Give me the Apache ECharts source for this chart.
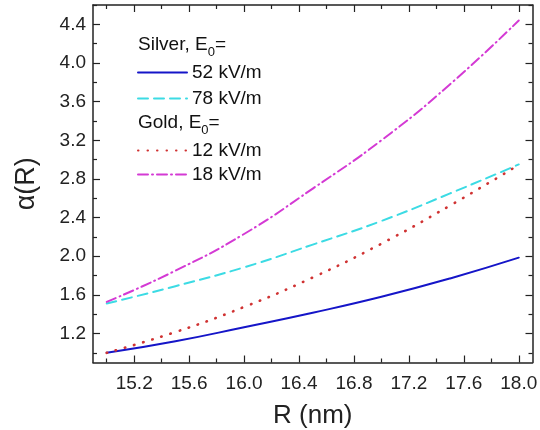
<!DOCTYPE html>
<html lang="en">
<head>
    <meta charset="UTF-8">
    <title>alpha(R)</title>
    <style>
        html, body { margin: 0; padding: 0; background: #fff; }
        #chart { width: 540px; height: 430px; }
    </style>
</head>
<body>
<div id="chart"></div>
<script src="https://cdn.jsdelivr.net/npm/echarts@6/dist/echarts.min.js"></script>
<script>
    // radius R (nm) and alpha(R)
    const radius = [15.0, 15.5, 16.0, 16.5, 17.0, 17.5, 18.0];
    const silver52 = [1.00, 1.12, 1.265, 1.415, 1.58, 1.77, 1.985];
    const silver78 = [1.51, 1.69, 1.885, 2.12, 2.365, 2.65, 2.95];
    const gold12 = [1.00, 1.215, 1.475, 1.78, 2.13, 2.525, 2.945];
    const gold18 = [1.527, 1.85, 2.23, 2.70, 3.20, 3.78, 4.44];

    const xMajor = [15.2, 15.6, 16.0, 16.4, 16.8, 17.2, 17.6, 18.0];
    const xMinor = [15.0, 15.4, 15.8, 16.2, 16.6, 17.0, 17.4, 17.8];
    const yMajor = [1.2, 1.6, 2.0, 2.4, 2.8, 3.2, 3.6, 4.0, 4.4];
    const yMinor = [1.0, 1.4, 1.8, 2.2, 2.6, 3.0, 3.4, 3.8, 4.2, 4.6];

    const font = 'Arial, "Liberation Sans", sans-serif';
    const ink = '#222';

    function pairs(ys) {
        return radius.map(function (r, i) { return [r, ys[i]]; });
    }

    function xAxisOf(pos, ticks, len, labels, line) {
        return {
            type: 'value', position: pos, min: 14.9, max: 18.1,
            splitLine: {show: false},
            axisLine: {show: line, onZero: false, lineStyle: {color: ink, width: 1.5}},
            axisTick: {show: true, inside: true, length: len, customValues: ticks,
                lineStyle: {color: ink, width: 1.2}},
            axisLabel: {show: labels, customValues: xMajor, margin: 12,
                fontSize: 19, color: ink, fontFamily: font,
                formatter: function (v) { return v.toFixed(1); }},
            name: labels ? 'R (nm)' : '',
            nameLocation: 'middle', nameGap: 40,
            nameTextStyle: {fontSize: 26, color: ink, fontFamily: font}
        };
    }

    function yAxisOf(pos, ticks, len, labels, line) {
        return {
            type: 'value', position: pos, min: 0.9, max: 4.6,
            splitLine: {show: false},
            axisLine: {show: line, onZero: false, lineStyle: {color: ink, width: 1.5}},
            axisTick: {show: true, inside: true, length: len, customValues: ticks,
                lineStyle: {color: ink, width: 1.2}},
            axisLabel: {show: labels, customValues: yMajor, margin: 7,
                fontSize: 19, color: ink, fontFamily: font,
                formatter: function (v) { return v.toFixed(1); }},
            name: labels ? 'α(R)' : '',
            nameLocation: 'middle', nameGap: 53,
            nameTextStyle: {fontSize: 27, color: ink, fontFamily: font}
        };
    }

    function line(name, ys, color, type, width) {
        return {
            name: name, type: 'line', data: pairs(ys), smooth: true,
            symbol: 'none', xAxisIndex: 0, yAxisIndex: 0,
            lineStyle: {color: color, width: width, type: type, cap: 'round'},
            itemStyle: {color: color, opacity: 0}
        };
    }

    const legendText = {fontSize: 19, color: '#111', fontFamily: font};

    const chart = echarts.init(document.getElementById('chart'));
    chart.setOption({
        animation: false,
        grid: {left: 93, right: 7.5, top: 5, bottom: 67.5, outerBoundsMode: 'none'},
        xAxis: [
            xAxisOf('bottom', xMajor, 7, true, true),
            xAxisOf('bottom', xMinor, 4, false, false),
            xAxisOf('top', xMajor, 7, false, true),
            xAxisOf('top', xMinor, 4, false, false)
        ],
        yAxis: [
            yAxisOf('left', yMajor, 7, true, true),
            yAxisOf('left', yMinor, 4, false, false),
            yAxisOf('right', yMajor, 7, false, true),
            yAxisOf('right', yMinor, 4, false, false)
        ],
        legend: [
            {data: ['52 kV/m', '78 kV/m'], orient: 'vertical', left: 137, top: 63,
                padding: 0, itemWidth: 49, itemHeight: 14, itemGap: 7,
                itemStyle: {opacity: 0}, textStyle: legendText},
            {data: ['12 kV/m', '18 kV/m'], orient: 'vertical', left: 137, top: 141,
                padding: 0, itemWidth: 49, itemHeight: 14, itemGap: 5,
                itemStyle: {opacity: 0}, textStyle: legendText}
        ],
        graphic: [
            {type: 'text', x: 138, y: 45, style: {
                text: 'Silver, E{s|0}=', fontSize: 19, fill: '#111', fontFamily: font,
                verticalAlign: 'middle',
                rich: {s: {fontSize: 13, fill: '#111', fontFamily: font, padding: [15, 0, 0, 0]}}}},
            {type: 'text', x: 138, y: 123, style: {
                text: 'Gold, E{s|0}=', fontSize: 19, fill: '#111', fontFamily: font,
                verticalAlign: 'middle',
                rich: {s: {fontSize: 13, fill: '#111', fontFamily: font, padding: [15, 0, 0, 0]}}}}
        ],
        series: [
            line('52 kV/m', silver52, '#1515c8', 'solid', 2),
            line('78 kV/m', silver78, '#3cdbe4', [10, 6], 2),
            line('12 kV/m', gold12, '#d03232', [0.5, 9], 2.6),
            line('18 kV/m', gold18, '#d43ad4', [10, 4, 1, 4], 2)
        ]
    });
</script>
</body>
</html>
